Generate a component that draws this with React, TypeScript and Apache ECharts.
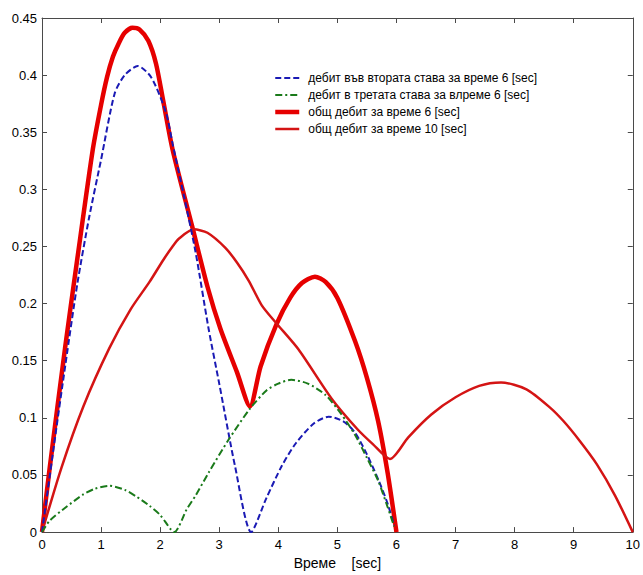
import React, { useEffect, useRef } from "react";
import * as echarts from "echarts";

// Series data: [time (sec), flow]
const secondJoint6: [number, number][] = [
  [0, 0], [0.2, 0.075], [0.4, 0.148], [0.6, 0.218], [0.8, 0.276], [1.0, 0.326],
  [1.23, 0.384], [1.4, 0.4], [1.62, 0.408], [1.85, 0.398], [2.1, 0.367], [2.21, 0.34],
  [2.4, 0.295], [2.6, 0.245], [2.82, 0.178], [3.0, 0.13], [3.27, 0.057], [3.54, 0],
  [3.8, 0.03], [4.06, 0.058], [4.3, 0.078], [4.6, 0.095], [4.85, 0.101], [5.1, 0.097],
  [5.3, 0.087], [5.5, 0.068], [5.7, 0.045], [5.85, 0.025], [5.96, 0.006],
];

const thirdJoint6: [number, number][] = [
  [0, 0], [0.13, 0.01], [0.41, 0.022], [0.7, 0.033], [0.9, 0.038], [1.14, 0.0405],
  [1.4, 0.037], [1.6, 0.031], [1.82, 0.023], [2.0, 0.015], [2.24, 0], [2.45, 0.02],
  [2.6, 0.032], [2.82, 0.052], [3.16, 0.081], [3.52, 0.108], [3.8, 0.124], [4.0, 0.13],
  [4.22, 0.1333], [4.5, 0.13], [4.8, 0.12], [5.07, 0.103], [5.3, 0.085], [5.5, 0.065],
  [5.69, 0.045], [5.85, 0.022], [5.96, 0.005],
];

const total6: [number, number][] = [
  [0, 0], [0.13, 0.056], [0.39, 0.161], [0.6, 0.24], [0.86, 0.335], [1.0, 0.374],
  [1.1, 0.398], [1.2, 0.416], [1.3, 0.428], [1.4, 0.437], [1.53, 0.4415], [1.65, 0.44],
  [1.8, 0.43], [1.93, 0.41], [2.05, 0.378], [2.21, 0.335], [2.54, 0.268], [2.8, 0.215],
  [3.02, 0.178], [3.3, 0.14], [3.52, 0.11], [3.7, 0.145], [3.97, 0.182], [4.2, 0.205],
  [4.4, 0.218], [4.62, 0.2236], [4.8, 0.219], [5.0, 0.205], [5.3, 0.167], [5.5, 0.135],
  [5.69, 0.097], [5.85, 0.052], [6.0, 0],
];

const total10: [number, number][] = [
  [0, 0], [0.33, 0.0565], [0.7, 0.11], [1.14, 0.161], [1.5, 0.195], [1.82, 0.219],
  [2.05, 0.238], [2.21, 0.25], [2.32, 0.257], [2.57, 0.265], [2.8, 0.262], [3.1, 0.249],
  [3.3, 0.236], [3.5, 0.22], [3.72, 0.1985], [3.97, 0.1826], [4.34, 0.16], [4.9, 0.117],
  [5.34, 0.09], [5.6, 0.077], [5.89, 0.064], [6.2, 0.083], [6.59, 0.103], [7.0, 0.118],
  [7.4, 0.128], [7.77, 0.131], [8.2, 0.125], [8.6, 0.109], [8.83, 0.097], [9.1, 0.08],
  [9.39, 0.0595], [9.7, 0.032], [10, 0],
];

const seriesNames = [
  "дебит във втората става за време 6 [sec]",
  "дебит в третата става за влреме 6 [sec]",
  "общ дебит за време 6 [sec]",
  "общ дебит за време 10 [sec]",
];

const xRange = { min: 0, max: 10, interval: 1 };
const yRange = { min: 0, max: 0.45, interval: 0.05 };
const xAxisTitle = "Време    [sec]";

const FONT = "'Liberation Sans', Arial, sans-serif";
const AXIS_COLOR = "#4a4a4a";

const BLUE = "#1a1ab4";
const GREEN = "#1a7a1a";
const RED_THICK = "#e60000";
const RED_THIN = "#d41414";

export default function App() {
  const ref = useRef<HTMLDivElement>(null);

  useEffect(() => {
    if (!ref.current) return;
    const chart = echarts.init(ref.current, null, { renderer: "svg" });

    const baseAxis = {
      type: "value" as const,
      axisLine: { show: true, onZero: false, lineStyle: { color: AXIS_COLOR, width: 1 } },
      axisTick: { show: true, inside: true, length: 5, lineStyle: { color: AXIS_COLOR } },
      splitLine: { show: false },
    };

    chart.setOption({
      animation: false,
      backgroundColor: "#ffffff",
      grid: { left: 42, right: 6, top: 18, bottom: 40, containLabel: false },
      legend: {
        orient: "vertical",
        left: 268,
        top: 67,
        itemWidth: 24,
        itemHeight: 14,
        itemGap: 5,
        itemStyle: { opacity: 0 },
        textStyle: { fontSize: 12, color: "#000", fontFamily: FONT, padding: [0, 0, 0, 4] },
        data: [
          { name: seriesNames[0], lineStyle: { width: 2 } },
          { name: seriesNames[1], lineStyle: { width: 2 } },
          { name: seriesNames[2], lineStyle: { width: 4.5 } },
          { name: seriesNames[3], lineStyle: { width: 2.5 } },
        ],
      },
      xAxis: [
        {
          ...baseAxis,
          ...xRange,
          position: "bottom",
          axisLabel: { color: "#000", fontSize: 13, fontFamily: FONT, margin: 6 },
          name: xAxisTitle,
          nameLocation: "middle",
          nameGap: 22,
          nameTextStyle: { color: "#000", fontSize: 14, fontFamily: FONT },
        },
        {
          ...baseAxis,
          ...xRange,
          position: "top",
          axisLabel: { show: false },
        },
      ],
      yAxis: [
        {
          ...baseAxis,
          ...yRange,
          position: "left",
          axisLabel: {
            color: "#000",
            fontSize: 13,
            fontFamily: FONT,
            margin: 5,
            formatter: (v: number) => String(Number(v.toFixed(2))),
          },
        },
        {
          ...baseAxis,
          ...yRange,
          position: "right",
          axisLabel: { show: false },
        },
      ],
      series: [
        {
          name: seriesNames[0],
          type: "line",
          data: secondJoint6,
          symbol: "none",
          smooth: 0.25,
          lineStyle: { color: BLUE, width: 2, type: [6, 3] },
          itemStyle: { color: BLUE },
          z: 3,
        },
        {
          name: seriesNames[1],
          type: "line",
          data: thirdJoint6,
          symbol: "none",
          smooth: 0.25,
          lineStyle: { color: GREEN, width: 2, type: [7, 3, 2, 3] },
          itemStyle: { color: GREEN },
          z: 3,
        },
        {
          name: seriesNames[2],
          type: "line",
          data: total6,
          symbol: "none",
          smooth: 0.25,
          lineStyle: { color: RED_THICK, width: 4.5 },
          itemStyle: { color: RED_THICK },
          z: 2,
        },
        {
          name: seriesNames[3],
          type: "line",
          data: total10,
          symbol: "none",
          smooth: 0.25,
          lineStyle: { color: RED_THIN, width: 2.5 },
          itemStyle: { color: RED_THIN },
          z: 2,
        },
      ],
    });

    return () => chart.dispose();
  }, []);

  return (
    <div
      ref={ref}
      style={{ position: "fixed", left: 0, top: 0, width: 643, height: 575, background: "#fff" }}
    />
  );
}
